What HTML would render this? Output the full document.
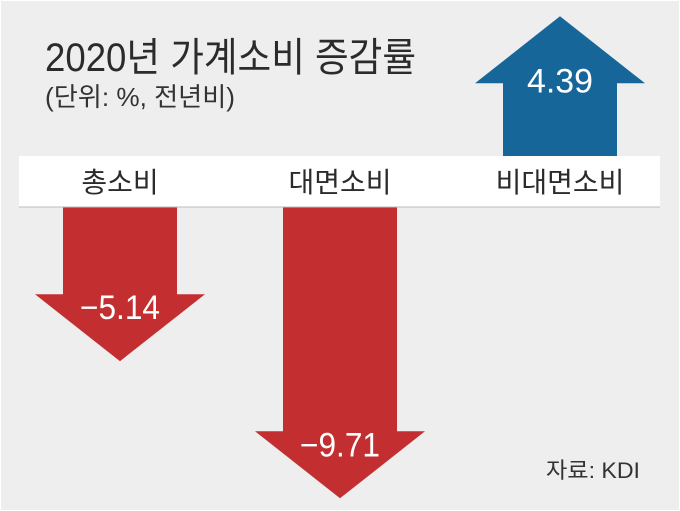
<!DOCTYPE html>
<html><head><meta charset="utf-8"><style>
html,body{margin:0;padding:0;background:#fff}
svg{display:block}
text{font-family:"Liberation Sans","Noto Sans CJK KR",sans-serif}
</style></head><body>
<svg id="chart" width="680" height="511" viewBox="0 0 680 511">
<rect x="1" y="1" width="678" height="509" fill="#eeeeee"/>
<text x="45" y="71" font-size="40" fill="#2b2b2b" textLength="371" lengthAdjust="spacingAndGlyphs">2020년 가계소비 증감률</text>
<text x="45" y="106" font-size="26" fill="#333" textLength="190" lengthAdjust="spacingAndGlyphs">(단위: %, 전년비)</text>
<g id="marks"></g>
<rect x="19" y="156" width="641" height="51" fill="#ffffff"/>
<line x1="19" y1="207" x2="660" y2="207" stroke="#bbb" stroke-width="1"/>
<g id="labels"></g>
<text x="640" y="478" font-size="22" fill="#333" text-anchor="end" textLength="94" lengthAdjust="spacingAndGlyphs">자료: KDI</text>
</svg>
<script>
const categories = ["총소비", "대면소비", "비대면소비"];
const values = [-5.14, -9.71, 4.39];
const valueLabels = ["−5.14", "−9.71", "4.39"];

const NS = "http://www.w3.org/2000/svg";
const marks = document.getElementById("marks");
const labels = document.getElementById("labels");
const centers = [120, 340, 560];
const k = 30;
const bandTop = 156, bandBot = 207;
const shaftHalf = 57, headHalf = 85, headH = 67;
function yScale(v){ return v < 0 ? bandBot - v * k : bandTop - v * k - 8; }

values.forEach((v, i) => {
  const cx = centers[i];
  const tip = yScale(v);
  let pts, labelY;
  if (v < 0) {
    const hb = tip - headH;
    pts = [[cx-shaftHalf,bandBot],[cx+shaftHalf,bandBot],[cx+shaftHalf,hb],[cx+headHalf,hb],[cx,tip],[cx-headHalf,hb],[cx-shaftHalf,hb]];
    labelY = hb + 25;
  } else {
    const hb = tip + headH;
    pts = [[cx-shaftHalf,bandTop],[cx+shaftHalf,bandTop],[cx+shaftHalf,hb],[cx+headHalf,hb],[cx,tip],[cx-headHalf,hb],[cx-shaftHalf,hb]];
    labelY = hb + 9;
  }
  const p = document.createElementNS(NS, "polygon");
  p.setAttribute("points", pts.map(q => q.join(",")).join(" "));
  p.setAttribute("fill", v < 0 ? "#c32f31" : "#17669a");
  
  
  marks.appendChild(p);

  const t = document.createElementNS(NS, "text");
  t.setAttribute("x", cx);
  t.setAttribute("y", labelY);
  t.setAttribute("font-size", "34");
  t.setAttribute("fill", "#fff");
  t.setAttribute("text-anchor", "middle");
  t.setAttribute("textLength", v < 0 ? "80" : "66");
  t.setAttribute("lengthAdjust", "spacingAndGlyphs");
  t.textContent = valueLabels[i];
  
  
  marks.appendChild(t);

  const c = document.createElementNS(NS, "text");
  c.setAttribute("x", cx);
  c.setAttribute("y", 192);
  c.setAttribute("font-size", "28");
  c.setAttribute("fill", "#2b2b2b");
  c.setAttribute("text-anchor", "middle");
  c.textContent = categories[i];
  
  
  labels.appendChild(c);
});
</script>
</body></html>
